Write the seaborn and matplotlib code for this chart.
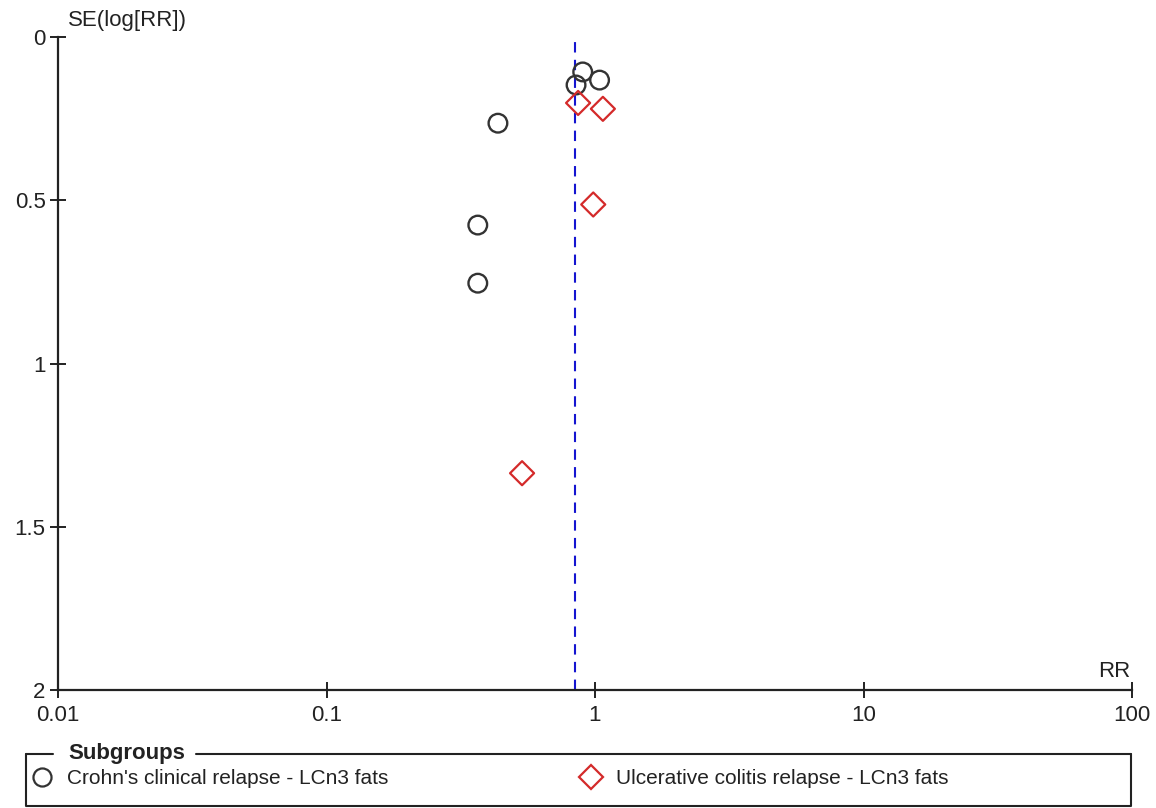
import numpy as np
import pandas as pd
import matplotlib
matplotlib.use('Agg')
import matplotlib.pyplot as plt
import seaborn as sns
from matplotlib.lines import Line2D

sns.set_style('white')
plt.rcParams['font.family'] = ['Liberation Sans', 'DejaVu Sans']

# Crohn's clinical relapse - LCn3 fats
crohn_rr = [0.90, 1.04, 0.85, 0.435, 0.366, 0.366]
crohn_se = [0.107, 0.132, 0.147, 0.264, 0.576, 0.754]
# Ulcerative colitis relapse - LCn3 fats
uc_rr = [0.865, 1.07, 0.985, 0.535]
uc_se = [0.202, 0.220, 0.513, 1.336]
pooled_rr = 0.843

x_ticks = [0.01, 0.1, 1, 10, 100]
x_tick_labels = ['0.01', '0.1', '1', '10', '100']
y_ticks = [0, 0.5, 1, 1.5, 2]
y_tick_labels = ['0', '0.5', '1', '1.5', '2']

crohn_label = "Crohn's clinical relapse - LCn3 fats"
uc_label = 'Ulcerative colitis relapse - LCn3 fats'

circle_col = '#333333'
diamond_col = '#d42a2a'

W, H = 1156, 808
fig = plt.figure(figsize=(W / 100, H / 100), dpi=100)
ax = fig.add_axes([58 / W, 1 - 690 / H, (1132 - 58) / W, (690 - 37) / H])

df_c = pd.DataFrame({'RR': crohn_rr, 'SE': crohn_se})
df_u = pd.DataFrame({'RR': uc_rr, 'SE': uc_se})

ax.axvline(pooled_rr, color='#1515d0', lw=1.5, dashes=(5, 3.5), zorder=1)
sns.scatterplot(data=df_c, x='RR', y='SE', ax=ax, marker='o', s=180,
                facecolor='none', edgecolor=circle_col, linewidth=1.7, zorder=3)
sns.scatterplot(data=df_u, x='RR', y='SE', ax=ax, marker='D', s=150,
                facecolor='none', edgecolor=diamond_col, linewidth=1.6, zorder=3)

ax.set_xscale('log')
ax.set_xlim(0.01, 100)
ax.set_ylim(2, 0)
ax.set_xticks(x_ticks)
ax.set_xticklabels(x_tick_labels)
ax.set_yticks(y_ticks)
ax.set_yticklabels(y_tick_labels)
ax.minorticks_off()
ax.set_xlabel('')
ax.set_ylabel('')

for s in ['top', 'right']:
    ax.spines[s].set_visible(False)
for s in ['left', 'bottom']:
    ax.spines[s].set_linewidth(1.6)
    ax.spines[s].set_color('#222222')
ax.tick_params(axis='both', bottom=True, left=True, direction='inout',
               length=12, width=1.4, color='#222222', labelsize=16,
               labelcolor='#222222', pad=3)
ax.tick_params(axis='x', length=11, pad=5)

ax.annotate('SE(log[RR])', xy=(0, 1), xycoords='axes fraction',
            xytext=(7, 12), textcoords='offset points', ha='left', va='center',
            fontsize=16, color='#222222')
ax.annotate('RR', xy=(1, 0), xycoords='axes fraction',
            xytext=(-1.5, 13), textcoords='offset points', ha='right', va='center',
            fontsize=16, color='#222222')

# legend box, top border broken around the title
bx0, bx1, by0, by1 = 26 / W, 1131 / W, 1 - 806 / H, 1 - 754 / H
frame_kw = dict(transform=fig.transFigure, color='#222222', lw=1.5)
fig.add_artist(Line2D([bx0, bx0, bx1, bx1], [by1, by0, by0, by1], **frame_kw))
fig.add_artist(Line2D([bx0, 53 / W], [by1, by1], **frame_kw))
fig.add_artist(Line2D([196 / W, bx1], [by1, by1], **frame_kw))
fig.text(68 / W, by1, 'Subgroups', fontsize=16, fontweight='bold',
         ha='left', va='center', color='#222222')
handles = [
    Line2D([], [], marker='o', ls='none', ms=13, mfc='none', mec=circle_col, mew=1.6),
    Line2D([], [], marker='D', ls='none', ms=12, mfc='none', mec=diamond_col, mew=1.6),
]
fig.legend(handles, [crohn_label, uc_label], loc='center left',
           bbox_to_anchor=(32 / W, 1 - 779 / H), ncol=2, frameon=False,
           fontsize=15, handlelength=1.0, handletextpad=0.7,
           columnspacing=9.2, borderaxespad=0, borderpad=0,
           labelcolor='#222222')

fig.savefig('out.png', dpi=100)
